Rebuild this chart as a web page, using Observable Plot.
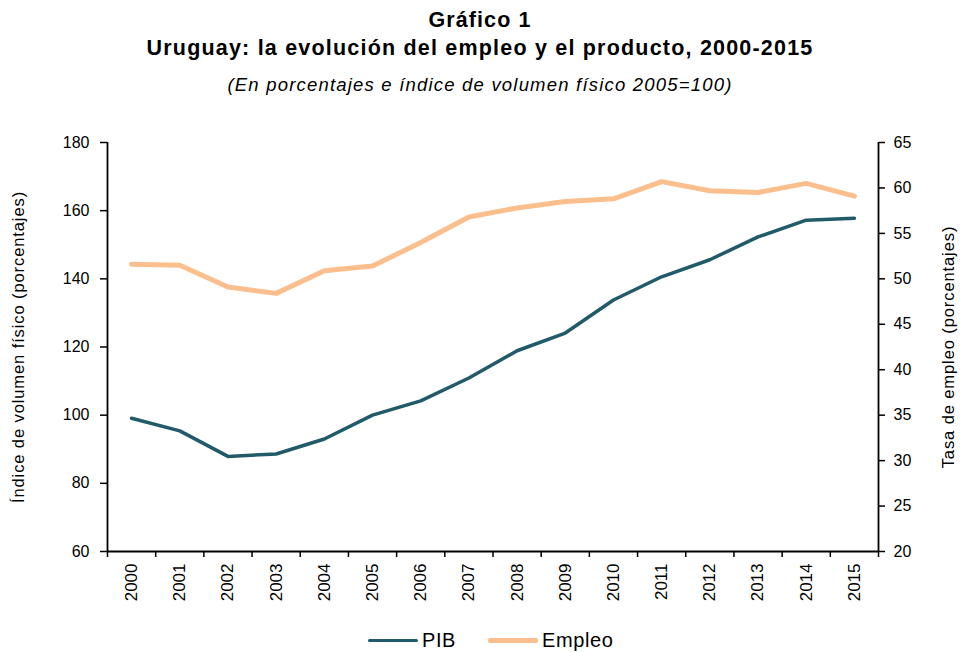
<!DOCTYPE html>
<html>
<head>
<meta charset="utf-8">
<script src="https://cdn.jsdelivr.net/npm/d3@7"></script>
<script src="https://cdn.jsdelivr.net/npm/@observablehq/plot@0.6"></script>
<style>
  html, body { margin: 0; padding: 0; background: #fff; }
  body { width: 960px; height: 652px; position: relative; font-family: "Liberation Sans", Arial, sans-serif; color: #000; overflow: hidden; }
  .t { position: absolute; left: 0; width: 960px; text-align: center; white-space: nowrap; }
  #t1 { top: 8px; font-size: 21.5px; font-weight: bold; letter-spacing: 1.1px; }
  #t2 { top: 36px; font-size: 21.5px; font-weight: bold; letter-spacing: 1.2px; }
  #t3 { top: 74px; font-size: 18.5px; font-style: italic; letter-spacing: 1.2px; }
  #chart { position: absolute; left: 0; top: 105px; }
  #legend { position: absolute; top: 629px; left: 368px; display: flex; align-items: center; font-size: 20px; letter-spacing: 0.6px; }
  .sw { display: inline-block; width: 50px; margin-right: 4px; border-radius: 2px; }
  .item { display: flex; align-items: center; margin-right: 32px; }
</style>
</head>
<body>
<div class="t" id="t1">Gráfico 1</div>
<div class="t" id="t2">Uruguay: la evolución del empleo y el producto, 2000-2015</div>
<div class="t" id="t3">(En porcentajes e índice de volumen físico 2005=100)</div>
<div id="chart"></div>
<div id="legend"></div>
<script>
const years = [2000,2001,2002,2003,2004,2005,2006,2007,2008,2009,2010,2011,2012,2013,2014,2015];
const pib = [99.1,95.4,87.9,88.6,93.0,100.0,104.2,110.9,118.9,124.1,133.8,140.6,145.6,152.3,157.2,157.8];
const empleo = [51.6,51.5,49.1,48.4,50.9,51.4,54.0,56.8,57.8,58.5,58.8,60.7,59.7,59.5,60.5,59.1];
const leftTicks = [60,80,100,120,140,160,180];
const rightTicks = [20,25,30,35,40,45,50,55,60,65];
const seriesNames = ["PIB","Empleo"];
const seriesColors = ["#215a68","#fbbf8d"];
const seriesWidths = [3.5,5];
const leftLabel = "Índice de volumen físico (porcentajes)";
const rightLabel = "Tasa de empleo (porcentajes)";

// map right axis (20..65) onto left axis (60..180)
const toLeft = v => 60 + (v - 20) * (120 / 45);
const fromLeft = v => 20 + (v - 60) * (45 / 120);

const boundaries = years.map(y => y - 0.5).concat([years[years.length - 1] + 0.5]);
const pibData = years.map((y, i) => ({year: y, v: pib[i]}));
const empData = years.map((y, i) => ({year: y, v: toLeft(empleo[i])}));

const chart = Plot.plot({
  width: 960,
  height: 515,
  marginLeft: 107,
  marginRight: 82,
  marginTop: 37,
  marginBottom: 69,
  style: {fontFamily: "'Liberation Sans', Arial, sans-serif", color: "#000", background: "#fff"},
  x: {type: "linear", domain: [1999.5, 2015.5], axis: null},
  y: {domain: [60, 180], axis: null},
  marks: [
    Plot.axisY({anchor: "left", ticks: leftTicks, tickSize: 7, tickPadding: 11, fontSize: 16, label: null, strokeWidth: 1.5}),
    Plot.axisY({anchor: "right", ticks: rightTicks.map(toLeft), tickFormat: d => String(Math.round(fromLeft(d))), tickSize: 6, tickPadding: 9, fontSize: 16, label: null, strokeWidth: 1.5}),
    Plot.axisX({anchor: "bottom", ticks: boundaries, tickFormat: () => "", tickSize: 6, label: null, strokeWidth: 1.5}),
    Plot.axisX({anchor: "bottom", ticks: years, tickFormat: d => String(d), tickSize: 0, tickPadding: 12, tickRotate: -90, fontSize: 17, label: null}),
    Plot.ruleX([1999.5, 2015.5], {y1: 60, y2: 180, stroke: "#000", strokeWidth: 1.8}),
    Plot.ruleY([60], {x1: 1999.5, x2: 2015.5, stroke: "#000", strokeWidth: 1.8}),
    Plot.line(pibData, {x: "year", y: "v", stroke: seriesColors[0], strokeWidth: seriesWidths[0]}),
    Plot.line(empData, {x: "year", y: "v", stroke: seriesColors[1], strokeWidth: seriesWidths[1]}),
    Plot.text([leftLabel], {frameAnchor: "left", textAnchor: "middle", lineAnchor: "middle", rotate: -90, dx: -89, fontSize: 16.5, fill: "#000"}),
    Plot.text([rightLabel], {frameAnchor: "right", textAnchor: "middle", lineAnchor: "middle", rotate: -90, dx: 70, fontSize: 16.5, fill: "#000"})
  ]
});
chart.querySelectorAll("text").forEach(t => {
  if (t.textContent === leftLabel || t.textContent === rightLabel) t.style.letterSpacing = "0.9px";
});
document.getElementById("chart").appendChild(chart);

const legend = document.getElementById("legend");
seriesNames.forEach((name, i) => {
  const item = document.createElement("div");
  item.className = "item";
  const sw = document.createElement("span");
  sw.className = "sw";
  sw.style.borderTop = seriesWidths[i] + "px solid " + seriesColors[i];
  const tx = document.createElement("span");
  tx.textContent = name;
  item.appendChild(sw);
  item.appendChild(tx);
  legend.appendChild(item);
});
</script>
</body>
</html>
